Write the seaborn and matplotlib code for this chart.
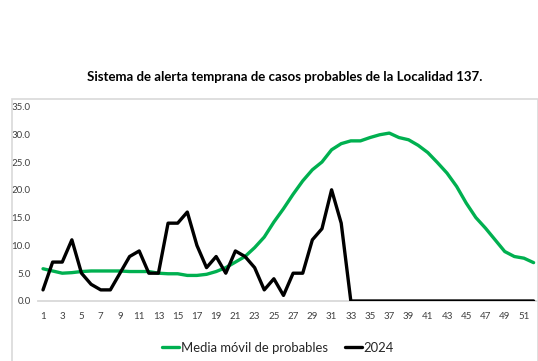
import matplotlib
matplotlib.use("Agg")
import matplotlib.pyplot as plt
from matplotlib.patches import Rectangle
import numpy as np
import pandas as pd
import seaborn as sns

# Epidemiological weeks
semanas = list(range(1, 53))

# Moving average of probable cases
media_movil = [5.8, 5.4, 5.0, 5.1, 5.3, 5.4, 5.4, 5.4, 5.4, 5.3,
               5.3, 5.3, 5.0, 4.9, 4.9, 4.6, 4.6, 4.8, 5.3, 6.0,
               7.0, 8.0, 9.6, 11.5, 14.2, 16.6, 19.2, 21.6, 23.6, 25.0,
               27.2, 28.3, 28.8, 28.8, 29.4, 29.9, 30.2, 29.4, 29.0, 28.0,
               26.7, 24.9, 23.0, 20.6, 17.6, 15.0, 13.1, 11.0, 8.9, 8.0,
               7.7, 6.9]

# Probable cases reported in 2024
casos_2024 = [2, 7, 7, 11, 5, 3, 2, 2, 5, 8,
              9, 5, 5, 14, 14, 16, 10, 6, 8, 5,
              9, 8, 6, 2, 4, 1, 5, 5, 11, 13,
              20, 14, 0, 0, 0, 0, 0, 0, 0, 0,
              0, 0, 0, 0, 0, 0, 0, 0, 0, 0,
              0, 0]

titulo = "Sistema de alerta temprana de casos probables de la Localidad 137."
etiqueta_media = "Media móvil de probables"
etiqueta_2024 = "2024"
yticks = [0, 5, 10, 15, 20, 25, 30, 35]

df = pd.DataFrame({"semana": semanas,
                   "media": media_movil,
                   "casos": casos_2024})

sns.set_theme(style="white")
plt.rcParams["font.family"] = ["Lato", "DejaVu Sans"]

W, H = 538, 361
fig = plt.figure(figsize=(W / 100, H / 100), dpi=100)

# Chart area border
fig.patches.append(Rectangle((12 / W, -0.01), (W - 12.5) / W, (H - 98.5) / H + 0.01,
                             transform=fig.transFigure, fill=False,
                             edgecolor="#d9d9d9", linewidth=1.2, zorder=0))

left, right = 38.2, 538.4
bottom, top = 301, 106.4
ax = fig.add_axes([left / W, (H - bottom) / H, (right - left) / W, (bottom - top) / H])

green = "#00b050"
sns.lineplot(data=df, x="semana", y="media", ax=ax, color=green,
             linewidth=2.4, label=etiqueta_media, legend=False)
sns.lineplot(data=df, x="semana", y="casos", ax=ax, color="black",
             linewidth=2.4, label=etiqueta_2024, legend=False)

ax.set_xlim(0.5, 52.5)
ax.set_ylim(0, 35)
ax.set_yticks(yticks)
ax.set_yticklabels([f"{v:.1f}" for v in yticks])
ax.set_xticks(semanas[::2])
ax.set_xticklabels([str(s) for s in semanas[::2]])
ax.tick_params(axis="both", length=0, labelsize=7, colors="#404040")
ax.tick_params(axis="y", pad=5.5)
ax.tick_params(axis="x", pad=8)
ax.set_xlabel("")
ax.set_ylabel("")
for side in ["top", "right", "left"]:
    ax.spines[side].set_visible(False)
ax.spines["bottom"].set_color("#d9d9d9")
ax.spines["bottom"].set_linewidth(1.3)
ax.spines["bottom"].set_zorder(0.5)
ax.patch.set_alpha(0)

fig.text(285 / W, 1 - 77 / H, titulo, ha="center", va="center",
         fontsize=9.5, fontweight="bold", color="black")

handles, labels = ax.get_legend_handles_labels()
fig.legend(handles, labels, loc="center", bbox_to_anchor=(278 / W, 1 - 348 / H),
           ncol=2, frameon=False, fontsize=9.4, handlelength=1.3,
           handletextpad=0.15, columnspacing=1.3, labelcolor="#262626")

fig.savefig("out.png", dpi=100)
